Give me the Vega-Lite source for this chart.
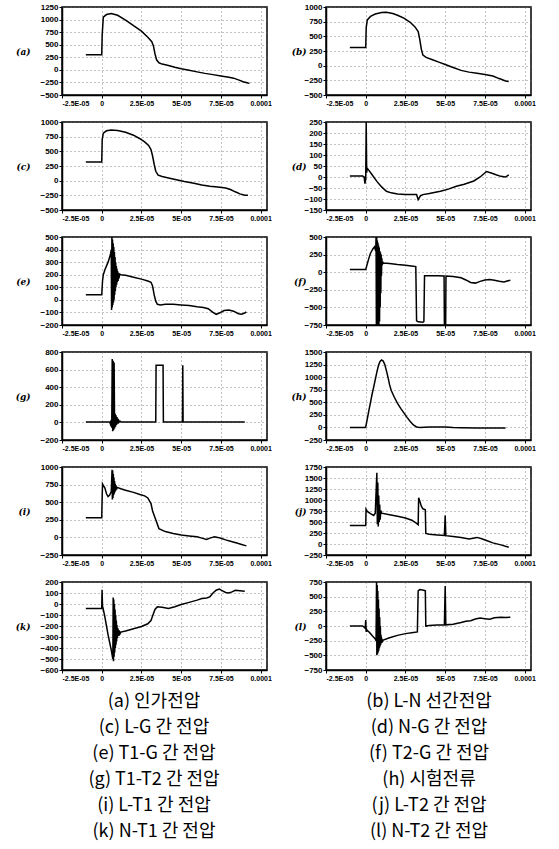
{
"$schema": "https://vega.github.io/schema/vega-lite/v6.json",
"padding": {"left": 14, "top": 2, "right": 0, "bottom": 0},
"background": "white",
"config": {
  "numberFormat": "d",
  "view": {"stroke": "black", "strokeWidth": 1.5, "continuousWidth": 205, "continuousHeight": 88},
  "axis": {"labelFont": "Liberation Sans", "labelFontWeight": "bold", "labelFontSize": 8, "labelColor": "black", "tickColor": "black", "domainColor": "black", "domainWidth": 1.5, "tickSize": 3, "labelPadding": 1, "gridColor": "#666", "gridDash": [1, 3], "gridWidth": 0.8, "labelOverlap": false},
  "axisX": {"labelFontSize": 7, "labelFlush": true},
  "axisY": {"titleAngle": 0, "titleAlign": "right", "titleBaseline": "middle", "titleFont": "DejaVu Serif", "titleFontStyle": "italic", "titleFontWeight": "bold", "titleFontSize": 9, "titleColor": "black", "titlePadding": 10}
},
"datasets": {
 "a": [{"t":-10,"v":300},{"t":0,"v":300},{"t":0.3,"v":700},{"t":1,"v":1050},{"t":3,"v":1100},{"t":6,"v":1120},{"t":10,"v":1085},{"t":15,"v":990},{"t":20,"v":880},{"t":25,"v":770},{"t":29,"v":650},{"t":31.5,"v":560},{"t":32.5,"v":480},{"t":33.5,"v":320},{"t":34.5,"v":200},{"t":36,"v":140},{"t":38,"v":115},{"t":42,"v":85},{"t":46,"v":50},{"t":50,"v":20},{"t":55,"v":-10},{"t":60,"v":-40},{"t":65,"v":-70},{"t":70,"v":-95},{"t":75,"v":-120},{"t":80,"v":-145},{"t":83,"v":-165},{"t":86,"v":-200},{"t":89,"v":-235},{"t":92,"v":-260},{"t":93,"v":-265}],
 "b": [{"t":-10,"v":310},{"t":0,"v":310},{"t":0.3,"v":650},{"t":1,"v":780},{"t":3,"v":840},{"t":6,"v":880},{"t":10,"v":905},{"t":13,"v":910},{"t":17,"v":890},{"t":20,"v":860},{"t":24,"v":810},{"t":28,"v":740},{"t":31,"v":660},{"t":33,"v":580},{"t":34,"v":450},{"t":35,"v":280},{"t":36,"v":180},{"t":38,"v":140},{"t":42,"v":100},{"t":46,"v":60},{"t":50,"v":20},{"t":55,"v":-30},{"t":60,"v":-80},{"t":65,"v":-110},{"t":70,"v":-130},{"t":75,"v":-150},{"t":80,"v":-175},{"t":84,"v":-220},{"t":88,"v":-260},{"t":90,"v":-270}],
 "c": [{"t":-10,"v":320},{"t":0,"v":320},{"t":0.3,"v":700},{"t":1,"v":810},{"t":3,"v":850},{"t":6,"v":865},{"t":10,"v":855},{"t":15,"v":825},{"t":20,"v":775},{"t":24,"v":715},{"t":27,"v":660},{"t":29.5,"v":600},{"t":31,"v":530},{"t":32,"v":420},{"t":33,"v":280},{"t":34,"v":160},{"t":35.5,"v":95},{"t":38,"v":70},{"t":42,"v":45},{"t":47,"v":15},{"t":52,"v":-15},{"t":58,"v":-45},{"t":63,"v":-75},{"t":68,"v":-95},{"t":73,"v":-110},{"t":78,"v":-125},{"t":81,"v":-150},{"t":84,"v":-190},{"t":87,"v":-225},{"t":90,"v":-250},{"t":92,"v":-250}],
 "d": [{"t":-10,"v":5},{"t":-2,"v":5},{"t":-1,"v":0},{"t":-0.5,"v":-30},{"t":0,"v":-10},{"t":0.3,"v":250},{"t":0.6,"v":20},{"t":0.9,"v":40},{"t":2,"v":30},{"t":4,"v":10},{"t":7,"v":-20},{"t":10,"v":-45},{"t":13,"v":-65},{"t":16,"v":-72},{"t":20,"v":-77},{"t":25,"v":-80},{"t":32,"v":-80},{"t":33,"v":-103},{"t":34.5,"v":-85},{"t":36,"v":-80},{"t":40,"v":-75},{"t":47,"v":-65},{"t":52,"v":-55},{"t":57,"v":-42},{"t":62,"v":-33},{"t":68,"v":-18},{"t":72,"v":0},{"t":76,"v":25},{"t":79,"v":18},{"t":82,"v":10},{"t":85,"v":3},{"t":88,"v":0},{"t":90,"v":10}],
 "e": [{"t":-10,"v":40},{"t":0,"v":40},{"t":0.5,"v":150},{"t":1,"v":200},{"t":2,"v":240},{"t":4,"v":300},{"t":5.5,"v":360},{"t":6,"v":400},{"t":6.2,"v":-80},{"t":6.4,"v":500},{"t":6.6,"v":-60},{"t":6.8,"v":480},{"t":7,"v":-40},{"t":7.2,"v":450},{"t":7.4,"v":-20},{"t":7.6,"v":420},{"t":7.8,"v":0},{"t":8,"v":380},{"t":8.2,"v":40},{"t":8.4,"v":340},{"t":8.6,"v":70},{"t":8.8,"v":300},{"t":9,"v":100},{"t":9.2,"v":270},{"t":9.4,"v":120},{"t":9.6,"v":250},{"t":9.8,"v":140},{"t":10,"v":230},{"t":10.3,"v":150},{"t":10.6,"v":215},{"t":10.9,"v":170},{"t":11.2,"v":205},{"t":12,"v":200},{"t":15,"v":195},{"t":20,"v":180},{"t":25,"v":165},{"t":29,"v":150},{"t":31,"v":140},{"t":32,"v":110},{"t":33,"v":40},{"t":34,"v":-10},{"t":35,"v":-35},{"t":37,"v":-40},{"t":40,"v":-35},{"t":45,"v":-35},{"t":50,"v":-40},{"t":55,"v":-45},{"t":60,"v":-55},{"t":64,"v":-60},{"t":67,"v":-70},{"t":70,"v":-100},{"t":72,"v":-115},{"t":74,"v":-105},{"t":77,"v":-85},{"t":80,"v":-80},{"t":83,"v":-90},{"t":86,"v":-110},{"t":88,"v":-115},{"t":90,"v":-105},{"t":91,"v":-95}],
 "f": [{"t":-10,"v":40},{"t":0,"v":40},{"t":1,"v":120},{"t":2,"v":200},{"t":3,"v":270},{"t":4.5,"v":330},{"t":5.5,"v":360},{"t":6.3,"v":300},{"t":6.5,"v":500},{"t":6.7,"v":-750},{"t":6.9,"v":500},{"t":7.1,"v":-750},{"t":7.3,"v":450},{"t":7.5,"v":-750},{"t":7.7,"v":420},{"t":7.9,"v":-750},{"t":8.1,"v":380},{"t":8.3,"v":-750},{"t":8.5,"v":350},{"t":8.7,"v":-700},{"t":8.9,"v":300},{"t":9.1,"v":-500},{"t":9.3,"v":280},{"t":9.5,"v":-300},{"t":9.7,"v":250},{"t":9.9,"v":-50},{"t":10.1,"v":200},{"t":10.4,"v":100},{"t":10.7,"v":150},{"t":11,"v":130},{"t":15,"v":125},{"t":20,"v":110},{"t":25,"v":100},{"t":30,"v":85},{"t":31.5,"v":80},{"t":32,"v":-690},{"t":33,"v":-705},{"t":36,"v":-710},{"t":36.6,"v":-700},{"t":37,"v":-50},{"t":40,"v":-50},{"t":45,"v":-50},{"t":49.3,"v":-55},{"t":49.5,"v":-750},{"t":50.3,"v":-750},{"t":50.5,"v":-55},{"t":55,"v":-60},{"t":60,"v":-80},{"t":63,"v":-110},{"t":66,"v":-145},{"t":69,"v":-155},{"t":72,"v":-130},{"t":75,"v":-110},{"t":78,"v":-105},{"t":81,"v":-115},{"t":84,"v":-130},{"t":87,"v":-140},{"t":89,"v":-125},{"t":91,"v":-115}],
 "g": [{"t":-10,"v":5},{"t":5,"v":5},{"t":5.5,"v":-20},{"t":6,"v":30},{"t":6.3,"v":-60},{"t":6.6,"v":720},{"t":6.9,"v":-100},{"t":7.2,"v":700},{"t":7.5,"v":-90},{"t":7.8,"v":680},{"t":8.1,"v":-70},{"t":8.4,"v":100},{"t":8.7,"v":-50},{"t":9,"v":80},{"t":9.3,"v":-30},{"t":9.6,"v":60},{"t":10,"v":-15},{"t":10.4,"v":40},{"t":10.8,"v":0},{"t":11.5,"v":15},{"t":12,"v":5},{"t":34,"v":5},{"t":34.2,"v":650},{"t":38.6,"v":650},{"t":38.8,"v":5},{"t":50.8,"v":5},{"t":51,"v":650},{"t":51.2,"v":5},{"t":90,"v":5}],
 "h": [{"t":-10,"v":0},{"t":-0.5,"v":0},{"t":0,"v":10},{"t":1,"v":170},{"t":2,"v":340},{"t":3,"v":500},{"t":4,"v":660},{"t":5,"v":800},{"t":6,"v":950},{"t":7,"v":1100},{"t":8,"v":1230},{"t":9,"v":1310},{"t":10,"v":1340},{"t":11,"v":1320},{"t":12,"v":1250},{"t":13,"v":1130},{"t":14,"v":1000},{"t":15,"v":850},{"t":16,"v":740},{"t":18,"v":600},{"t":20,"v":480},{"t":22,"v":380},{"t":24,"v":290},{"t":26,"v":200},{"t":28,"v":120},{"t":30,"v":50},{"t":32,"v":10},{"t":34,"v":0},{"t":40,"v":10},{"t":50,"v":10},{"t":55,"v":0},{"t":60,"v":-5},{"t":70,"v":-10},{"t":80,"v":-10},{"t":88,"v":-10}],
 "i": [{"t":-10,"v":280},{"t":0,"v":280},{"t":0.2,"v":500},{"t":0.5,"v":760},{"t":1.2,"v":730},{"t":2,"v":700},{"t":3,"v":620},{"t":4,"v":580},{"t":5,"v":600},{"t":6,"v":650},{"t":6.5,"v":960},{"t":6.7,"v":540},{"t":6.9,"v":950},{"t":7.1,"v":560},{"t":7.3,"v":900},{"t":7.5,"v":600},{"t":7.7,"v":850},{"t":7.9,"v":620},{"t":8.1,"v":800},{"t":8.3,"v":640},{"t":8.5,"v":760},{"t":8.7,"v":660},{"t":9,"v":740},{"t":9.3,"v":680},{"t":9.7,"v":710},{"t":12,"v":690},{"t":15,"v":670},{"t":20,"v":640},{"t":24,"v":610},{"t":27,"v":590},{"t":29,"v":560},{"t":31,"v":480},{"t":32,"v":375},{"t":34,"v":250},{"t":36,"v":125},{"t":40,"v":83},{"t":45,"v":55},{"t":50,"v":33},{"t":55,"v":20},{"t":60,"v":8},{"t":63,"v":-10},{"t":66,"v":-30},{"t":68,"v":-10},{"t":71,"v":8},{"t":73,"v":0},{"t":75,"v":-12},{"t":78,"v":-35},{"t":81,"v":-54},{"t":85,"v":-80},{"t":88,"v":-100},{"t":90.5,"v":-117},{"t":91,"v":-120}],
 "j": [{"t":-10,"v":420},{"t":0,"v":420},{"t":0.2,"v":790},{"t":1,"v":740},{"t":3,"v":690},{"t":5,"v":650},{"t":6,"v":700},{"t":7,"v":1620},{"t":7.3,"v":450},{"t":7.6,"v":1400},{"t":7.9,"v":400},{"t":8.2,"v":1100},{"t":8.5,"v":500},{"t":8.8,"v":900},{"t":9.1,"v":550},{"t":9.5,"v":760},{"t":10,"v":700},{"t":15,"v":665},{"t":20,"v":630},{"t":25,"v":590},{"t":29,"v":540},{"t":32,"v":470},{"t":33,"v":440},{"t":33.3,"v":1050},{"t":34,"v":980},{"t":35,"v":860},{"t":36,"v":800},{"t":37.5,"v":780},{"t":37.8,"v":240},{"t":40,"v":220},{"t":45,"v":205},{"t":49.5,"v":195},{"t":50,"v":650},{"t":50.4,"v":190},{"t":55,"v":170},{"t":60,"v":150},{"t":65,"v":115},{"t":70,"v":150},{"t":73,"v":120},{"t":76,"v":80},{"t":80,"v":25},{"t":85,"v":-20},{"t":90,"v":-75}],
 "k": [{"t":-10,"v":-40},{"t":0,"v":-40},{"t":0.2,"v":130},{"t":0.5,"v":-20},{"t":1,"v":-50},{"t":2,"v":-120},{"t":3,"v":-200},{"t":4,"v":-280},{"t":5,"v":-350},{"t":6,"v":-420},{"t":7,"v":-500},{"t":7.2,"v":60},{"t":7.4,"v":-520},{"t":7.6,"v":40},{"t":7.8,"v":-480},{"t":8,"v":0},{"t":8.2,"v":-440},{"t":8.4,"v":-50},{"t":8.6,"v":-400},{"t":8.8,"v":-100},{"t":9,"v":-370},{"t":9.2,"v":-150},{"t":9.4,"v":-340},{"t":9.6,"v":-190},{"t":9.8,"v":-310},{"t":10.2,"v":-220},{"t":10.6,"v":-290},{"t":11,"v":-240},{"t":11.5,"v":-270},{"t":12,"v":-255},{"t":15,"v":-245},{"t":20,"v":-225},{"t":25,"v":-205},{"t":29,"v":-180},{"t":31,"v":-150},{"t":32,"v":-110},{"t":33.5,"v":-50},{"t":35,"v":-25},{"t":38,"v":-30},{"t":42,"v":-40},{"t":46,"v":-25},{"t":50,"v":-5},{"t":55,"v":15},{"t":60,"v":35},{"t":63,"v":50},{"t":66,"v":55},{"t":68,"v":65},{"t":70,"v":100},{"t":72,"v":125},{"t":74,"v":135},{"t":76,"v":120},{"t":78,"v":105},{"t":80,"v":100},{"t":82,"v":110},{"t":84,"v":125},{"t":87,"v":120},{"t":90,"v":115}],
 "l": [{"t":-10,"v":0},{"t":-2,"v":0},{"t":-1,"v":-20},{"t":-0.3,"v":-40},{"t":0,"v":100},{"t":0.3,"v":-100},{"t":0.6,"v":-60},{"t":1,"v":-80},{"t":2,"v":-100},{"t":3,"v":-130},{"t":4,"v":-160},{"t":5,"v":-190},{"t":6,"v":-220},{"t":6.5,"v":-250},{"t":6.8,"v":750},{"t":7,"v":-500},{"t":7.2,"v":700},{"t":7.4,"v":-480},{"t":7.6,"v":600},{"t":7.8,"v":-450},{"t":8,"v":450},{"t":8.2,"v":-420},{"t":8.4,"v":300},{"t":8.6,"v":-380},{"t":8.8,"v":150},{"t":9,"v":-350},{"t":9.2,"v":0},{"t":9.4,"v":-320},{"t":9.6,"v":-150},{"t":9.8,"v":-290},{"t":10.2,"v":-230},{"t":10.6,"v":-260},{"t":11,"v":-240},{"t":15,"v":-200},{"t":20,"v":-160},{"t":25,"v":-130},{"t":30,"v":-110},{"t":32.5,"v":-100},{"t":33,"v":600},{"t":34,"v":620},{"t":36.5,"v":610},{"t":37.5,"v":600},{"t":37.8,"v":0},{"t":40,"v":10},{"t":45,"v":15},{"t":49.5,"v":20},{"t":50,"v":680},{"t":50.4,"v":20},{"t":55,"v":30},{"t":60,"v":60},{"t":63,"v":80},{"t":66,"v":90},{"t":69,"v":120},{"t":72,"v":135},{"t":75,"v":125},{"t":78,"v":115},{"t":81,"v":140},{"t":85,"v":150},{"t":88,"v":145},{"t":91,"v":150}],
 "captions": [
  {"col":"left","line":1,"cap":"(a)  인가전압"},
  {"col":"left","line":2,"cap":"(c)  L-G 간 전압"},
  {"col":"left","line":3,"cap":"(e)  T1-G 간 전압"},
  {"col":"left","line":4,"cap":"(g)  T1-T2 간 전압"},
  {"col":"left","line":5,"cap":"(i)  L-T1 간 전압"},
  {"col":"left","line":6,"cap":"(k)  N-T1 간 전압"},
  {"col":"right","line":1,"cap":"(b)  L-N 선간전압"},
  {"col":"right","line":2,"cap":"(d)  N-G 간 전압"},
  {"col":"right","line":3,"cap":"(f)  T2-G 간 전압"},
  {"col":"right","line":4,"cap":"(h)  시험전류"},
  {"col":"right","line":5,"cap":"(j)  L-T2 간 전압"},
  {"col":"right","line":6,"cap":"(l)  N-T2 간 전압"}
 ]
},
"vconcat": [
 {
  "columns": 2,
  "align": "all",
  "spacing": {"row": 10, "column": 17},
  "concat": [
   {"data": {"name": "a"}, "mark": {"type": "line", "color": "black", "strokeWidth": 1.5, "clip": true},
    "encoding": {"x": {"field": "t", "type": "quantitative", "scale": {"domain": [-25, 104], "nice": false}, "axis": {"values": [-25, 0, 25, 50, 75, 100], "title": null, "labelExpr": "datum.value == -25 ? '-2.5E-05' : datum.value == 0 ? '0' : datum.value == 25 ? '2.5E-05' : datum.value == 50 ? '5E-05' : datum.value == 75 ? '7.5E-05' : '0.0001'"}},
     "y": {"field": "v", "type": "quantitative", "scale": {"domain": [-500, 1250], "nice": false, "zero": false}, "axis": {"values": [-500, -250, 0, 250, 500, 750, 1000, 1250], "title": "(a)"}},
     "order": {"value": null}}},
   {"data": {"name": "b"}, "mark": {"type": "line", "color": "black", "strokeWidth": 1.5, "clip": true},
    "encoding": {"x": {"field": "t", "type": "quantitative", "scale": {"domain": [-25, 104], "nice": false}, "axis": {"values": [-25, 0, 25, 50, 75, 100], "title": null, "labelExpr": "datum.value == -25 ? '-2.5E-05' : datum.value == 0 ? '0' : datum.value == 25 ? '2.5E-05' : datum.value == 50 ? '5E-05' : datum.value == 75 ? '7.5E-05' : '0.0001'"}},
     "y": {"field": "v", "type": "quantitative", "scale": {"domain": [-500, 1000], "nice": false, "zero": false}, "axis": {"values": [-500, -250, 0, 250, 500, 750, 1000], "title": "(b)", "titlePadding": -2}},
     "order": {"value": null}}},
   {"data": {"name": "c"}, "mark": {"type": "line", "color": "black", "strokeWidth": 1.5, "clip": true},
    "encoding": {"x": {"field": "t", "type": "quantitative", "scale": {"domain": [-25, 104], "nice": false}, "axis": {"values": [-25, 0, 25, 50, 75, 100], "title": null, "labelExpr": "datum.value == -25 ? '-2.5E-05' : datum.value == 0 ? '0' : datum.value == 25 ? '2.5E-05' : datum.value == 50 ? '5E-05' : datum.value == 75 ? '7.5E-05' : '0.0001'"}},
     "y": {"field": "v", "type": "quantitative", "scale": {"domain": [-500, 1000], "nice": false, "zero": false}, "axis": {"values": [-500, -250, 0, 250, 500, 750, 1000], "title": "(c)"}},
     "order": {"value": null}}},
   {"data": {"name": "d"}, "mark": {"type": "line", "color": "black", "strokeWidth": 1.5, "clip": true},
    "encoding": {"x": {"field": "t", "type": "quantitative", "scale": {"domain": [-25, 104], "nice": false}, "axis": {"values": [-25, 0, 25, 50, 75, 100], "title": null, "labelExpr": "datum.value == -25 ? '-2.5E-05' : datum.value == 0 ? '0' : datum.value == 25 ? '2.5E-05' : datum.value == 50 ? '5E-05' : datum.value == 75 ? '7.5E-05' : '0.0001'"}},
     "y": {"field": "v", "type": "quantitative", "scale": {"domain": [-150, 250], "nice": false, "zero": false}, "axis": {"values": [-150, -100, -50, 0, 50, 100, 150, 200, 250], "title": "(d)", "titlePadding": -2}},
     "order": {"value": null}}},
   {"data": {"name": "e"}, "mark": {"type": "line", "color": "black", "strokeWidth": 1.5, "clip": true},
    "encoding": {"x": {"field": "t", "type": "quantitative", "scale": {"domain": [-25, 104], "nice": false}, "axis": {"values": [-25, 0, 25, 50, 75, 100], "title": null, "labelExpr": "datum.value == -25 ? '-2.5E-05' : datum.value == 0 ? '0' : datum.value == 25 ? '2.5E-05' : datum.value == 50 ? '5E-05' : datum.value == 75 ? '7.5E-05' : '0.0001'"}},
     "y": {"field": "v", "type": "quantitative", "scale": {"domain": [-200, 500], "nice": false, "zero": false}, "axis": {"values": [-200, -100, 0, 100, 200, 300, 400, 500], "title": "(e)"}},
     "order": {"value": null}}},
   {"data": {"name": "f"}, "mark": {"type": "line", "color": "black", "strokeWidth": 1.5, "clip": true},
    "encoding": {"x": {"field": "t", "type": "quantitative", "scale": {"domain": [-25, 104], "nice": false}, "axis": {"values": [-25, 0, 25, 50, 75, 100], "title": null, "labelExpr": "datum.value == -25 ? '-2.5E-05' : datum.value == 0 ? '0' : datum.value == 25 ? '2.5E-05' : datum.value == 50 ? '5E-05' : datum.value == 75 ? '7.5E-05' : '0.0001'"}},
     "y": {"field": "v", "type": "quantitative", "scale": {"domain": [-750, 500], "nice": false, "zero": false}, "axis": {"values": [-750, -500, -250, 0, 250, 500], "title": "(f)", "titlePadding": -2}},
     "order": {"value": null}}},
   {"data": {"name": "g"}, "mark": {"type": "line", "color": "black", "strokeWidth": 1.5, "clip": true},
    "encoding": {"x": {"field": "t", "type": "quantitative", "scale": {"domain": [-25, 104], "nice": false}, "axis": {"values": [-25, 0, 25, 50, 75, 100], "title": null, "labelExpr": "datum.value == -25 ? '-2.5E-05' : datum.value == 0 ? '0' : datum.value == 25 ? '2.5E-05' : datum.value == 50 ? '5E-05' : datum.value == 75 ? '7.5E-05' : '0.0001'"}},
     "y": {"field": "v", "type": "quantitative", "scale": {"domain": [-200, 800], "nice": false, "zero": false}, "axis": {"values": [-200, 0, 200, 400, 600, 800], "title": "(g)"}},
     "order": {"value": null}}},
   {"data": {"name": "h"}, "mark": {"type": "line", "color": "black", "strokeWidth": 1.5, "clip": true},
    "encoding": {"x": {"field": "t", "type": "quantitative", "scale": {"domain": [-25, 104], "nice": false}, "axis": {"values": [-25, 0, 25, 50, 75, 100], "title": null, "labelExpr": "datum.value == -25 ? '-2.5E-05' : datum.value == 0 ? '0' : datum.value == 25 ? '2.5E-05' : datum.value == 50 ? '5E-05' : datum.value == 75 ? '7.5E-05' : '0.0001'"}},
     "y": {"field": "v", "type": "quantitative", "scale": {"domain": [-250, 1500], "nice": false, "zero": false}, "axis": {"values": [-250, 0, 250, 500, 750, 1000, 1250, 1500], "title": "(h)", "titlePadding": -2}},
     "order": {"value": null}}},
   {"data": {"name": "i"}, "mark": {"type": "line", "color": "black", "strokeWidth": 1.5, "clip": true},
    "encoding": {"x": {"field": "t", "type": "quantitative", "scale": {"domain": [-25, 104], "nice": false}, "axis": {"values": [-25, 0, 25, 50, 75, 100], "title": null, "labelExpr": "datum.value == -25 ? '-2.5E-05' : datum.value == 0 ? '0' : datum.value == 25 ? '2.5E-05' : datum.value == 50 ? '5E-05' : datum.value == 75 ? '7.5E-05' : '0.0001'"}},
     "y": {"field": "v", "type": "quantitative", "scale": {"domain": [-250, 1000], "nice": false, "zero": false}, "axis": {"values": [-250, 0, 250, 500, 750, 1000], "title": "(i)"}},
     "order": {"value": null}}},
   {"data": {"name": "j"}, "mark": {"type": "line", "color": "black", "strokeWidth": 1.5, "clip": true},
    "encoding": {"x": {"field": "t", "type": "quantitative", "scale": {"domain": [-25, 104], "nice": false}, "axis": {"values": [-25, 0, 25, 50, 75, 100], "title": null, "labelExpr": "datum.value == -25 ? '-2.5E-05' : datum.value == 0 ? '0' : datum.value == 25 ? '2.5E-05' : datum.value == 50 ? '5E-05' : datum.value == 75 ? '7.5E-05' : '0.0001'"}},
     "y": {"field": "v", "type": "quantitative", "scale": {"domain": [-250, 1750], "nice": false, "zero": false}, "axis": {"values": [-250, 0, 250, 500, 750, 1000, 1250, 1500, 1750], "title": "(j)", "titlePadding": -2}},
     "order": {"value": null}}},
   {"data": {"name": "k"}, "mark": {"type": "line", "color": "black", "strokeWidth": 1.5, "clip": true},
    "encoding": {"x": {"field": "t", "type": "quantitative", "scale": {"domain": [-25, 104], "nice": false}, "axis": {"values": [-25, 0, 25, 50, 75, 100], "title": null, "labelExpr": "datum.value == -25 ? '-2.5E-05' : datum.value == 0 ? '0' : datum.value == 25 ? '2.5E-05' : datum.value == 50 ? '5E-05' : datum.value == 75 ? '7.5E-05' : '0.0001'"}},
     "y": {"field": "v", "type": "quantitative", "scale": {"domain": [-600, 200], "nice": false, "zero": false}, "axis": {"values": [-600, -500, -400, -300, -200, -100, 0, 100, 200], "title": "(k)"}},
     "order": {"value": null}}},
   {"data": {"name": "l"}, "mark": {"type": "line", "color": "black", "strokeWidth": 1.5, "clip": true},
    "encoding": {"x": {"field": "t", "type": "quantitative", "scale": {"domain": [-25, 104], "nice": false}, "axis": {"values": [-25, 0, 25, 50, 75, 100], "title": null, "labelExpr": "datum.value == -25 ? '-2.5E-05' : datum.value == 0 ? '0' : datum.value == 25 ? '2.5E-05' : datum.value == 50 ? '5E-05' : datum.value == 75 ? '7.5E-05' : '0.0001'"}},
     "y": {"field": "v", "type": "quantitative", "scale": {"domain": [-750, 750], "nice": false, "zero": false}, "axis": {"values": [-750, -500, -250, 0, 250, 500, 750], "title": "(l)", "titlePadding": -2}},
     "order": {"value": null}}}
  ]
 },
 {
  "data": {"name": "captions"},
  "width": 459,
  "height": 156,
  "view": {"stroke": null},
  "mark": {"type": "text", "font": "Noto Sans CJK KR", "fontSize": 18, "color": "black", "align": "center", "baseline": "middle"},
  "encoding": {
   "x": {"field": "col", "type": "nominal", "scale": {"type": "point", "domain": ["left", "right"], "padding": 0.3345}, "axis": null},
   "y": {"field": "line", "type": "ordinal", "scale": {"paddingInner": 0, "paddingOuter": 0}, "axis": null},
   "text": {"field": "cap"}
  }
 }
],
"spacing": 7
}
